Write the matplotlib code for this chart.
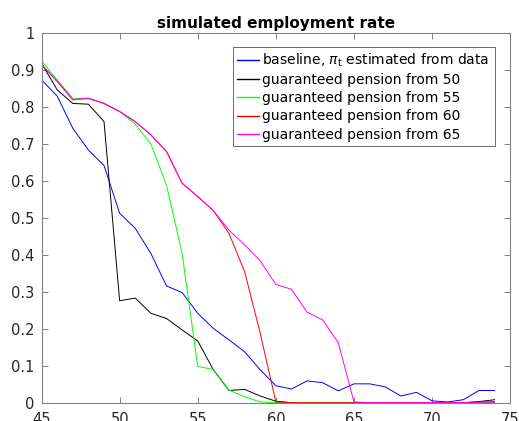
import matplotlib
matplotlib.use('Agg')
import matplotlib.pyplot as plt

ages = list(range(45, 75))

baseline = [0.874, 0.83, 0.743, 0.684, 0.642, 0.513, 0.472, 0.404, 0.316, 0.298,
            0.242, 0.201, 0.170, 0.138, 0.089, 0.046, 0.037, 0.059, 0.054, 0.032,
            0.051, 0.051, 0.043, 0.018, 0.028, 0.005, 0.002, 0.008, 0.033, 0.033]
from50 = [0.919, 0.847, 0.810, 0.808, 0.761, 0.276, 0.283, 0.242, 0.228, 0.197,
          0.167, 0.089, 0.033, 0.036, 0.018, 0.004, 0.0, 0.0, 0.0, 0.0,
          0.0, 0.0, 0.0, 0.0, 0.0, 0.0, 0.0, 0.0, 0.003, 0.008]
from55 = [0.925, 0.874, 0.824, 0.824, 0.810, 0.788, 0.754, 0.700, 0.589, 0.404,
          0.098, 0.090, 0.034, 0.016, 0.002, 0.0, 0.0, 0.0, 0.0, 0.0,
          0.0, 0.0, 0.0, 0.0, 0.0, 0.0, 0.0, 0.0, 0.0, 0.0]
from60 = [0.915, 0.870, 0.820, 0.824, 0.810, 0.788, 0.761, 0.725, 0.680, 0.594,
          0.558, 0.520, 0.458, 0.355, 0.188, 0.002, 0.0, 0.0, 0.0, 0.0,
          0.0, 0.0, 0.0, 0.0, 0.0, 0.0, 0.0, 0.0, 0.002, 0.003]
from65 = [0.915, 0.870, 0.820, 0.824, 0.810, 0.788, 0.761, 0.725, 0.680, 0.594,
          0.558, 0.520, 0.467, 0.427, 0.384, 0.320, 0.307, 0.245, 0.224, 0.162,
          0.002, 0.0, 0.0, 0.0, 0.0, 0.0, 0.0, 0.0, 0.0, 0.0]

labels = [r'baseline, $\pi_{\rm t}$ estimated from data',
          'guaranteed pension from 50',
          'guaranteed pension from 55',
          'guaranteed pension from 60',
          'guaranteed pension from 65']
colors = ['#0000ff', '#000000', '#00ff00', '#ff0000', '#ff00ff']

fig = plt.figure(figsize=(5.19, 4.21), dpi=100)
ax = fig.add_axes([0.080, 0.0435, 0.903, 0.8775])

for ys, c, lab in zip([baseline, from50, from55, from60, from65], colors, labels):
    ax.plot(ages, ys, color=c, lw=0.7, label=lab)

ax.set_xlim(45, 75)
ax.set_ylim(0, 1)
ax.set_xticks(range(45, 76, 5))
ax.set_yticks([i / 10 for i in range(11)])
ax.set_yticklabels(['0', '0.1', '0.2', '0.3', '0.4', '0.5', '0.6', '0.7', '0.8', '0.9', '1'])
ax.tick_params(direction='in', length=4, width=0.7, color='#808080',
               labelsize=10.5, labelcolor='#262626', top=True, right=True)
ax.tick_params(axis='y', pad=5)
ax.tick_params(axis='x', pad=7)
for s in ax.spines.values():
    s.set_color('#808080')
    s.set_linewidth(0.8)

ax.set_title('simulated employment rate', fontsize=11, fontweight='bold', pad=4)
leg = ax.legend(loc='upper left', bbox_to_anchor=(0.408, 0.695, 0.559, 0.267),
                mode='expand', fontsize=10, frameon=True, fancybox=False,
                handlelength=1.6, handletextpad=0.2, borderpad=0.3,
                labelspacing=0.3, borderaxespad=0)
leg.get_frame().set_edgecolor('#404040')
leg.get_frame().set_linewidth(0.7)
for h in leg.get_lines():
    h.set_linewidth(1.0)

fig.savefig('out.png', dpi=100)
